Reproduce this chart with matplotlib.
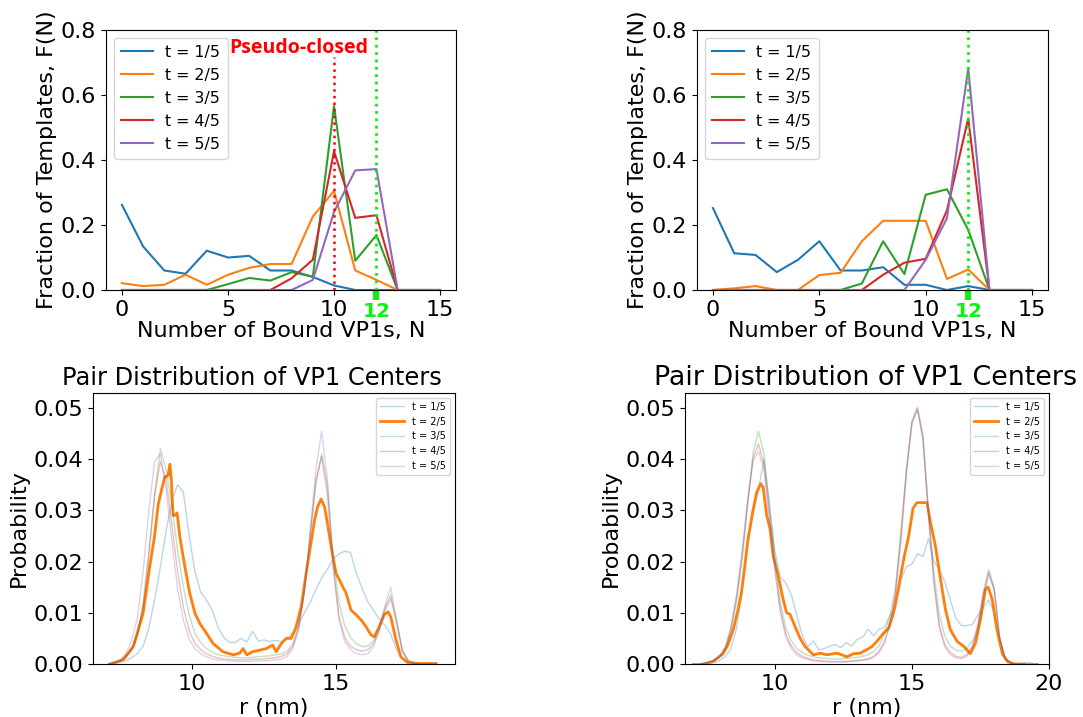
import numpy as np
import matplotlib
matplotlib.use('Agg')
import matplotlib.pyplot as plt

W, H = 1083, 717

# ---------------- top panels data ----------------
N = list(range(16))
TL_t1 = [0.262, 0.134, 0.060, 0.050, 0.121, 0.100, 0.105, 0.060, 0.060, 0.040, 0.014, 0.0, 0.0, 0.0, 0.0, 0.0]
TL_t2 = [0.021, 0.012, 0.016, 0.047, 0.016, 0.047, 0.068, 0.080, 0.080, 0.226, 0.305, 0.060, 0.031, 0.0, 0.0, 0.0]
TL_t3 = [0.0, 0.0, 0.0, 0.0, 0.0, 0.018, 0.037, 0.029, 0.055, 0.041, 0.566, 0.090, 0.169, 0.0, 0.0, 0.0]
TL_t4 = [0.0, 0.0, 0.0, 0.0, 0.0, 0.0, 0.0, 0.0, 0.036, 0.093, 0.427, 0.222, 0.230, 0.0, 0.0, 0.0]
TL_t5 = [0.0, 0.0, 0.0, 0.0, 0.0, 0.0, 0.0, 0.0, 0.0, 0.031, 0.240, 0.368, 0.372, 0.0, 0.0, 0.0]

TR_t1 = [0.252, 0.113, 0.108, 0.055, 0.093, 0.150, 0.060, 0.060, 0.070, 0.016, 0.016, 0.0, 0.012, 0.0, 0.0, 0.0]
TR_t2 = [0.0, 0.005, 0.012, 0.0, 0.0, 0.046, 0.053, 0.150, 0.213, 0.213, 0.213, 0.034, 0.063, 0.0, 0.0, 0.0]
TR_t3 = [0.0, 0.0, 0.0, 0.0, 0.0, 0.0, 0.0, 0.020, 0.150, 0.049, 0.293, 0.310, 0.185, 0.0, 0.0, 0.0]
TR_t4 = [0.0, 0.0, 0.0, 0.0, 0.0, 0.0, 0.0, 0.0, 0.047, 0.084, 0.096, 0.245, 0.528, 0.0, 0.0, 0.0]
TR_t5 = [0.0, 0.0, 0.0, 0.0, 0.0, 0.0, 0.0, 0.0, 0.0, 0.0, 0.093, 0.221, 0.682, 0.0, 0.0, 0.0]

labels = ['t = 1/5', 't = 2/5', 't = 3/5', 't = 4/5', 't = 5/5']
colors = ['#1f77b4', '#ff7f0e', '#2ca02c', '#d62728', '#9467bd']

# ---------------- bottom-left data ----------------
r_BL = np.round(np.arange(7.1, 18.51, 0.2), 2)
BL_t1 = [0, 0.0001, 0.0003, 0.0007, 0.0012,
         0.002, 0.0035, 0.007, 0.0125, 0.019,
         0.026, 0.032, 0.035, 0.0335, 0.025,
         0.018, 0.014, 0.0125, 0.0105, 0.0072,
         0.0052, 0.0042, 0.0042, 0.005, 0.0043,
         0.0064, 0.0045, 0.0047, 0.0044, 0.0046,
         0.0044, 0.005, 0.0062, 0.0078, 0.010,
         0.012, 0.0145, 0.0168, 0.0185, 0.0205,
         0.0215, 0.022, 0.0218, 0.0178, 0.0148,
         0.0122, 0.0105, 0.0088, 0.0075, 0.0058,
         0.0028, 0.0011, 0.0004, 0.0001, 0,
         0, 0, 0]
BL_t3 = [0, 0.0002, 0.0006, 0.0015, 0.003,
         0.006, 0.012, 0.022, 0.033, 0.042,
         0.038, 0.031, 0.022, 0.015, 0.0095,
         0.006, 0.0042, 0.003, 0.0023, 0.0018,
         0.0016, 0.0014, 0.0013, 0.0012, 0.0012,
         0.0013, 0.0014, 0.0015, 0.0016, 0.0018,
         0.002, 0.0025, 0.004, 0.0075, 0.0145,
         0.025, 0.035, 0.041, 0.035, 0.021,
         0.012, 0.0075, 0.0052, 0.004, 0.0034,
         0.0035, 0.0045, 0.0075, 0.011, 0.0135,
         0.0085, 0.0028, 0.0008, 0.0002, 0,
         0, 0, 0]
BL_t4 = [0, 0.0002, 0.0006, 0.0013, 0.0028,
         0.0055, 0.011, 0.021, 0.033, 0.0395,
         0.036, 0.027, 0.018, 0.011, 0.0065,
         0.004, 0.0028, 0.002, 0.0015, 0.0012,
         0.001, 0.0009, 0.0008, 0.0008, 0.0008,
         0.0009, 0.0009, 0.001, 0.0011, 0.0012,
         0.0015, 0.002, 0.0035, 0.007, 0.014,
         0.025, 0.036, 0.0405, 0.033, 0.019,
         0.0095, 0.0052, 0.0035, 0.0028, 0.0025,
         0.0028, 0.004, 0.0065, 0.0105, 0.0128,
         0.008, 0.0025, 0.0006, 0.0001, 0,
         0, 0, 0]
BL_t5 = [0, 0.0003, 0.0008, 0.002, 0.0045,
         0.009, 0.018, 0.030, 0.0395, 0.041,
         0.034, 0.024, 0.0145, 0.0085, 0.0048,
         0.003, 0.002, 0.0014, 0.001, 0.0008,
         0.0007, 0.0006, 0.0005, 0.0005, 0.0005,
         0.0005, 0.0006, 0.0006, 0.0007, 0.0008,
         0.001, 0.0015, 0.003, 0.0065, 0.014,
         0.026, 0.038, 0.0455, 0.036, 0.019,
         0.0085, 0.0045, 0.0028, 0.002, 0.0018,
         0.002, 0.0035, 0.0065, 0.0115, 0.015,
         0.0085, 0.0025, 0.0006, 0.0001, 0,
         0, 0, 0]
r_BL_t2 = [7.15, 7.6, 7.96, 8.3, 8.53, 8.7, 8.82, 8.94, 9.05, 9.17, 9.23, 9.28, 9.34, 9.4,
           9.48, 9.57, 9.75, 9.92, 10.1, 10.27, 10.5, 10.73, 11.07, 11.42, 11.65, 11.77,
           11.9, 12.1, 12.35, 12.58, 12.8, 12.92, 13.1, 13.27, 13.44, 13.6, 13.79, 13.96,
           14.13, 14.25, 14.36, 14.48, 14.6, 14.7, 14.83, 15.0, 15.17, 15.35, 15.52, 15.7,
           15.87, 16.04, 16.21, 16.33, 16.5, 16.67, 16.8, 16.9, 17.08, 17.25, 17.48, 17.9, 18.46]
BL_t2 = [0.0, 0.0008, 0.0034, 0.0099, 0.019, 0.025, 0.031, 0.034, 0.0365, 0.0368, 0.039,
         0.036, 0.029, 0.029, 0.0295, 0.025, 0.019, 0.0138, 0.0099, 0.0079, 0.006, 0.004,
         0.0024, 0.0018, 0.0021, 0.003, 0.0018, 0.0024, 0.0027, 0.003, 0.0037, 0.0024,
         0.004, 0.005, 0.005, 0.007, 0.0112, 0.0177, 0.0236, 0.028, 0.0307, 0.0322, 0.0307,
         0.0275, 0.0229, 0.0177, 0.0158, 0.0138, 0.0105, 0.0096, 0.0086, 0.0073, 0.0057,
         0.0053, 0.0073, 0.0096, 0.0102, 0.0092, 0.0047, 0.0014, 0.0003, 0.0001, 0.0001]

# ---------------- bottom-right data ----------------
r_BR = np.round(np.arange(7.0, 19.61, 0.2), 2)
BR_t1 = [0, 0, 0, 0.0001, 0.0003,
         0.0008, 0.0015, 0.003, 0.007, 0.014,
         0.023, 0.029, 0.034, 0.040, 0.031,
         0.022, 0.017, 0.0158, 0.0135, 0.0095,
         0.0055, 0.0033, 0.0045, 0.0028, 0.003,
         0.0035, 0.0038, 0.0032, 0.0042, 0.0035,
         0.0048, 0.0052, 0.0068, 0.0055, 0.0068,
         0.0072, 0.0095, 0.0108, 0.0165, 0.019,
         0.0195, 0.0215, 0.021, 0.0245, 0.020,
         0.0185, 0.016, 0.0125, 0.009, 0.0075,
         0.0075, 0.0077, 0.0095, 0.011, 0.0125,
         0.010, 0.005, 0.0012, 0.0003, 0,
         0, 0.0003, 0.0001, 0]
BR_t3 = [0, 0, 0.0001, 0.0003, 0.0007,
         0.0015, 0.003, 0.0065, 0.012, 0.020,
         0.031, 0.041, 0.0455, 0.041, 0.031,
         0.021, 0.012, 0.007, 0.0045, 0.003,
         0.0022, 0.0017, 0.0014, 0.0012, 0.0011,
         0.001, 0.001, 0.001, 0.0011, 0.0012,
         0.0013, 0.0015, 0.0018, 0.0024, 0.0035,
         0.006, 0.0095, 0.015, 0.026, 0.038,
         0.047, 0.0495, 0.044, 0.030, 0.018,
         0.0095, 0.0055, 0.0035, 0.0027, 0.0025,
         0.003, 0.0045, 0.006, 0.012, 0.0175,
         0.0145, 0.005, 0.0012, 0.0002, 0,
         0, 0, 0, 0]
BR_t4 = [0, 0, 0.0001, 0.0003, 0.0008,
         0.0016, 0.0032, 0.007, 0.013, 0.021,
         0.031, 0.040, 0.043, 0.039, 0.029,
         0.019, 0.0105, 0.0058, 0.0035, 0.0022,
         0.0015, 0.0011, 0.0008, 0.0007, 0.0006,
         0.0005, 0.0005, 0.0005, 0.0005, 0.0006,
         0.0007, 0.0008, 0.001, 0.0015, 0.0025,
         0.0045, 0.008, 0.014, 0.025, 0.038,
         0.0475, 0.050, 0.044, 0.029, 0.016,
         0.0075, 0.0038, 0.0022, 0.0015, 0.0013,
         0.0018, 0.0035, 0.0075, 0.0135, 0.018,
         0.0145, 0.005, 0.001, 0.0002, 0,
         0, 0, 0, 0]
BR_t5 = [0, 0, 0.0001, 0.0003, 0.0008,
         0.0017, 0.0035, 0.0075, 0.0135, 0.022,
         0.032, 0.0395, 0.0415, 0.038, 0.028,
         0.018, 0.010, 0.0052, 0.003, 0.0018,
         0.0012, 0.0009, 0.0006, 0.0005, 0.0004,
         0.0004, 0.0004, 0.0004, 0.0004, 0.0005,
         0.0006, 0.0007, 0.0009, 0.0013, 0.0022,
         0.004, 0.0075, 0.0135, 0.024, 0.037,
         0.047, 0.050, 0.045, 0.030, 0.016,
         0.007, 0.0033, 0.0018, 0.0012, 0.001,
         0.0015, 0.0032, 0.0075, 0.014, 0.0185,
         0.015, 0.0052, 0.001, 0.0002, 0,
         0, 0, 0, 0]
r_BR_t2 = [7.38, 7.74, 8.11, 8.29, 8.48, 8.66, 8.78, 8.9, 9.02, 9.2, 9.33, 9.48, 9.57, 9.7,
           9.82, 9.94, 10.12, 10.3, 10.43, 10.55, 10.73, 10.91, 11.1, 11.4, 11.65, 11.89,
           12.26, 12.44, 12.62, 12.87, 13.1, 13.35, 13.54, 13.72, 13.96, 14.15, 14.33, 14.5,
           14.7, 14.88, 15.04, 15.18, 15.37, 15.55, 15.67, 15.85, 16.04, 16.22, 16.4, 16.65,
           16.9, 17.13, 17.32, 17.5, 17.68, 17.78, 17.93, 18.1, 18.3, 18.48, 18.72, 19.08]
BR_t2 = [0.0, 0.0005, 0.002, 0.0038, 0.0067, 0.0107, 0.014, 0.019, 0.0245, 0.030, 0.0334,
         0.0352, 0.0345, 0.029, 0.0265, 0.021, 0.0173, 0.0126, 0.010, 0.0097, 0.0074,
         0.0051, 0.0034, 0.0018, 0.0021, 0.0018, 0.0021, 0.0018, 0.0014, 0.002, 0.0021,
         0.0028, 0.0034, 0.0044, 0.006, 0.007, 0.010, 0.0146, 0.0205, 0.025, 0.0304,
         0.0315, 0.0315, 0.0315, 0.0278, 0.0232, 0.0166, 0.0107, 0.0067, 0.0044, 0.0034,
         0.002, 0.0041, 0.0087, 0.0146, 0.015, 0.0126, 0.0067, 0.002, 0.0005, 0.0, 0.0]

GREEN = '#11ee11'
FS = 16

fig = plt.figure(figsize=(W / 100, H / 100), dpi=100)

def box(l, t, r, b):
    return [l / W, 1 - b / H, (r - l) / W, (b - t) / H]

axTL = fig.add_axes(box(106, 30, 456, 290))
axTR = fig.add_axes(box(697, 30, 1048, 290))
axBL = fig.add_axes(box(93, 393, 455, 664))
axBR = fig.add_axes(box(685, 393, 1049, 664))

def top_panel(ax, series, pseudo):
    for s, lab, c in zip(series, labels, colors):
        ax.plot(N, s, color=c, lw=1.5, label=lab)
    ax.set_xticks([0, 5, 10, 15])
    ax.set_yticks([0, 0.2, 0.4, 0.6, 0.8])
    ax.set_xlim(-0.75, 15.75)
    ax.set_ylim(0, 0.8)
    ax.tick_params(labelsize=FS)
    ax.set_xlabel('Number of Bound VP1s, N', fontsize=FS, labelpad=1)
    ax.set_ylabel('Fraction of Templates, F(N)', fontsize=FS, labelpad=3)
    ax.axvline(12, color=GREEN, ls=':', lw=2)
    ax.plot([12, 12], [0, -0.031], color=GREEN, lw=4.5, clip_on=False,
            solid_capstyle='butt')
    ax.annotate('12', xy=(12, 0), xytext=(0, -8.5), textcoords='offset points',
                ha='center', va='top', color=GREEN, fontsize=14.5,
                fontweight='bold', annotation_clip=False)
    if pseudo:
        ax.plot([10, 10], [0, 0.717], color='red', ls=':', lw=1.8)
        ax.text(8.35, 0.745, 'Pseudo-closed', color='red', fontsize=14,
                fontweight='bold', family='Open Sans', ha='center', va='center')
    ax.legend(loc='upper left', fontsize=11.4, handlelength=2.0,
              borderpad=0.45, labelspacing=0.5)

top_panel(axTL, [TL_t1, TL_t2, TL_t3, TL_t4, TL_t5], True)
top_panel(axTR, [TR_t1, TR_t2, TR_t3, TR_t4, TR_t5], False)

def bottom_panel(ax, r, faint, r2, s2, xticks, xlim, title_x, title_fs):
    faint_series = [faint[0], None, faint[1], faint[2], faint[3]]
    for i, (lab, c) in enumerate(zip(labels, colors)):
        if i == 1:
            ax.plot(r2, s2, color=c, lw=2, label=lab)
        else:
            ax.plot(r, faint_series[i], color=c, lw=1.0, alpha=0.3, label=lab)
    ax.set_xticks(xticks)
    ax.set_yticks([0, 0.01, 0.02, 0.03, 0.04, 0.05])
    ax.set_xlim(*xlim)
    ax.set_ylim(0, 0.0529)
    ax.tick_params(labelsize=FS)
    ax.set_xlabel('r (nm)', fontsize=FS, labelpad=3)
    ax.set_ylabel('Probability', fontsize=FS, labelpad=3)
    ax.legend(loc='upper right', fontsize=7, handlelength=2.5)
    fig.text(title_x / W, 1 - 378 / H, 'Pair Distribution of VP1 Centers',
             fontsize=title_fs, ha='center', va='center')

bottom_panel(axBL, r_BL, [BL_t1, BL_t3, BL_t4, BL_t5], r_BL_t2, BL_t2,
             [10, 15], (6.56, 19.13), 252, 17.4)
bottom_panel(axBR, r_BR, [BR_t1, BR_t3, BR_t4, BR_t5], r_BR_t2, BR_t2,
             [10, 15, 20], (6.72, 20.0), 866, 19.4)

fig.savefig('out.png', dpi=100)
